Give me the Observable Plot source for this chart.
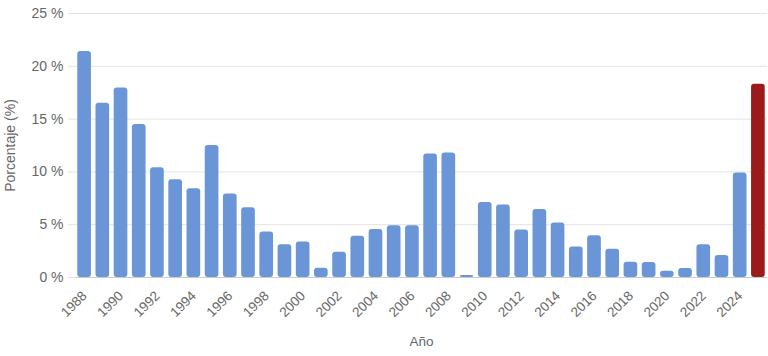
<!DOCTYPE html>
<html><head><meta charset="utf-8">
<script src="https://cdn.jsdelivr.net/npm/d3@7"></script>
<script src="https://cdn.jsdelivr.net/npm/@observablehq/plot@0.6"></script>
<style>
html,body{margin:0;padding:0;background:#fff;}
svg{font-family:"Liberation Sans",Arial,sans-serif;}
</style></head>
<body><div id="chart"></div>
<script>
const years = [1988,1989,1990,1991,1992,1993,1994,1995,1996,1997,1998,1999,2000,2001,2002,2003,2004,2005,2006,2007,2008,2009,2010,2011,2012,2013,2014,2015,2016,2017,2018,2019,2020,2021,2022,2023,2024,2025];
const values = [21.4,16.5,17.95,14.5,10.4,9.25,8.4,12.5,7.9,6.6,4.3,3.1,3.35,0.88,2.4,3.9,4.55,4.9,4.9,11.7,11.8,0.2,7.1,6.86,4.5,6.45,5.16,2.9,3.96,2.67,1.45,1.42,0.6,0.85,3.1,2.08,9.9,18.3];
const highlightYear = 2025;
const yTicks = [0,5,10,15,20,25];

const data = years.map((y,i)=>({year:String(y), value:values[i], hl: y===highlightYear}));

const chart = Plot.plot({
  width: 768,
  height: 356,
  marginLeft: 75,
  marginRight: 1,
  marginTop: 13,
  marginBottom: 79,
  style: {fontSize: "13px", color: "#666", background: "#fff"},
  x: {domain: years.map(String), paddingInner: 0.25, paddingOuter: 0.125, round: false},
  y: {domain: [0,25]},
  marks: [
    Plot.gridY(yTicks, {stroke: "#e3e3e3", strokeOpacity: 1, strokeWidth: 1}),
    Plot.barY(data, {x: "year", y: "value", fill: d => d.hl ? "#9b1b1b" : "#6a95d6", rx: 3}),
    Plot.ruleY([0], {stroke: "#ccc"}),
    Plot.ruleX([0], {frameAnchor: "left", stroke: "#ddd"}),
    Plot.axisY(yTicks, {tickSize: 7, stroke: "#e3e3e3", tickPadding: 5, tickFormat: d => d + " %", fontSize: 14, fill: "#666",
      label: "Porcentaje (%)", labelAnchor: "center", labelOffset: 70, labelArrow: "none"}),
    Plot.axisX({tickSize: 0, tickRotate: -45, tickPadding: 16, fontSize: 13.5, fill: "#666",
      tickFormat: d => (+d % 2 === 0 ? d : ""),
      label: "Año", labelAnchor: "center", labelOffset: 68, labelArrow: "none"})
  ]
});
document.getElementById("chart").appendChild(chart);
</script></body></html>
